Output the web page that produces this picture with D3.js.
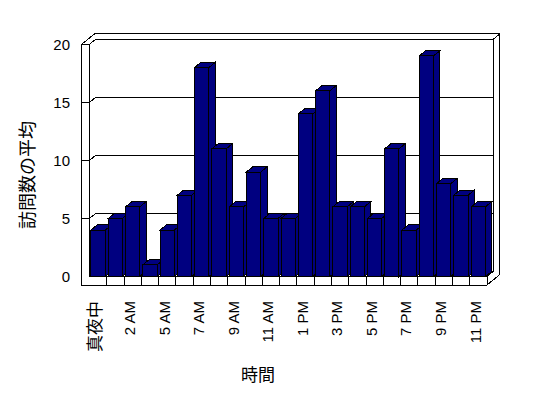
<!DOCTYPE html>
<html>
<head>
<meta charset="utf-8">
<script src="https://cdn.jsdelivr.net/npm/d3@7"></script>
<style>
  body { margin: 0; background: #fff; }
  svg text { font-family: "Liberation Sans", Arial, "Noto Sans CJK JP", sans-serif; fill: #000; }
  .cjk { font-family: "Noto Sans CJK JP", sans-serif; }
</style>
</head>
<body>
<svg id="chart"></svg>
<script>
var w = 548;
var h = 398;

// hours (one hour has no data), average visits
var hours = ["真夜中", "1 AM", "2 AM", "3 AM", "5 AM", "6 AM", "7 AM", "8 AM", "9 AM", "10 AM", "11 AM", "正午",
  "1 PM", "2 PM", "3 PM", "4 PM", "5 PM", "6 PM", "7 PM", "8 PM", "9 PM", "10 PM", "11 PM"];
var visits = [4, 5, 6, 1, 4, 7, 18, 11, 6, 9, 5, 5, 14, 16, 6, 6, 5, 11, 4, 19, 8, 7, 6];
var yTicks = [0, 5, 10, 15, 20];

var svg = d3.select("#chart")
  .attr("width", w)
  .attr("height", h)

var x = d3.scaleBand()
  .domain(hours)
  .range([89.5, 487])
  .padding(0)

var y = d3.scaleLinear()
  .domain([0, 20])
  .range([276.5, 44.3])

// depth offset of the 3d look
var DX = 6.4, DY = -5.2;

var L0 = 81.7, L1 = x.range()[0], R = x.range()[1];
var yT = y(20), yF = y(0), yB = 285;

var line = d3.line();
var frame = svg.append("g")
  .attr("fill", "none")
  .attr("stroke", "#000")
  .attr("stroke-width", 1)
  .attr("shape-rendering", "crispEdges")

// outline of the walls and floor
frame.append("path")
  .attr("fill", "#fff")
  .attr("d", line([
    [L0, yT], [L0 + 2 * DX, yT + 2 * DY], [R + 2 * DX, yT + 2 * DY],
    [R + 2 * DX, yB + 2 * DY], [R, yB], [L0, yB]
  ]) + "Z")

frame.append("path").attr("d", line([[L1, yT], [L1 + DX, yT + DY], [R + DX, yT + DY], [R + 2 * DX, yT + 2 * DY]]))
frame.append("path").attr("d", line([[R + DX, yT + DY], [R + DX, yF + DY], [R, yF]]))
frame.append("path").attr("d", line([[L0, yT], [L1, yT], [L1, yF], [R, yF], [R, yB]]))

// gridlines: across the left wall front, along the side, then on the back wall
yTicks.slice(1, -1).forEach(function(v) {
  frame.append("path").attr("d", line([
    [L0, y(v)], [L1, y(v)], [L1 + DX, y(v) + DY], [R + DX, y(v) + DY]
  ]))
})

// ticks on the floor front
frame.selectAll(".xtick")
  .data(hours.slice(1))
  .enter()
  .append("line")
  .attr("x1", function(d) { return x(d); })
  .attr("x2", function(d) { return x(d); })
  .attr("y1", yF)
  .attr("y2", yB)

// bars, drawn left to right so each one hides the side of the one before
var bw = x.bandwidth() - 3;
var bars = svg.append("g")
  .attr("shape-rendering", "crispEdges")
  .selectAll(".bar")
  .data(hours.map(function(d, i) { return {hour: d, value: visits[i]}; }))
  .enter()
  .append("g")
  .attr("class", "bar")
  .attr("fill", "#000080")
  .attr("stroke", "#000")

bars.append("path")
  .attr("d", function(d) {
    var x0 = x(d.hour) + 1.4, x1 = x0 + bw, top = y(d.value);
    return line([[x1, top], [x1 + DX, top + DY], [x1 + DX, yF + DY], [x1, yF]]) + "Z";
  })
bars.append("path")
  .attr("d", function(d) {
    var x0 = x(d.hour) + 1.4, x1 = x0 + bw, top = y(d.value);
    return line([[x0, top], [x0 + DX, top + DY], [x1 + DX, top + DY], [x1, top]]) + "Z";
  })
bars.append("rect")
  .attr("x", function(d) { return x(d.hour) + 1.4; })
  .attr("y", function(d) { return y(d.value); })
  .attr("width", bw)
  .attr("height", function(d) { return yF - y(d.value); })

// y axis labels
var yAxis = svg.append("g")
  .attr("transform", "translate(70,0)")
  .call(d3.axisLeft(y).tickValues(yTicks).tickSize(0).tickPadding(0))
yAxis.select(".domain").remove()
yAxis.selectAll("text")
  .style("font-size", "15px")
  .style("font-family", "'Liberation Sans', Arial, sans-serif")

// x axis labels, every other hour, turned upright
var xAxis = svg.append("g")
  .attr("transform", "translate(-3,301)")
  .call(d3.axisBottom(x)
    .tickValues(hours.filter(function(d, i) { return i % 2 == 0; }))
    .tickSize(0))
xAxis.select(".domain").remove()
xAxis.selectAll("text")
  .attr("transform", "rotate(-90)")
  .attr("x", 0)
  .attr("y", 0)
  .attr("dy", "0.35em")
  .attr("text-anchor", "end")
  .style("font-size", function(d) { return /[^\x00-\x7F]/.test(d) ? "17px" : "15px"; })
  .style("font-family", function(d) {
    return /[^\x00-\x7F]/.test(d) ? "'Noto Sans CJK JP', sans-serif" : "'Liberation Sans', Arial, sans-serif";
  })

// axis titles
svg.append("text")
  .attr("class", "cjk")
  .attr("transform", "translate(28,175) rotate(-90)")
  .attr("text-anchor", "middle")
  .attr("dy", "0.35em")
  .style("font-size", "18px")
  .text("訪問数の平均")

svg.append("text")
  .attr("class", "cjk")
  .attr("x", 258)
  .attr("y", 375)
  .attr("text-anchor", "middle")
  .attr("dy", "0.35em")
  .style("font-size", "17px")
  .text("時間")
</script>
</body>
</html>
